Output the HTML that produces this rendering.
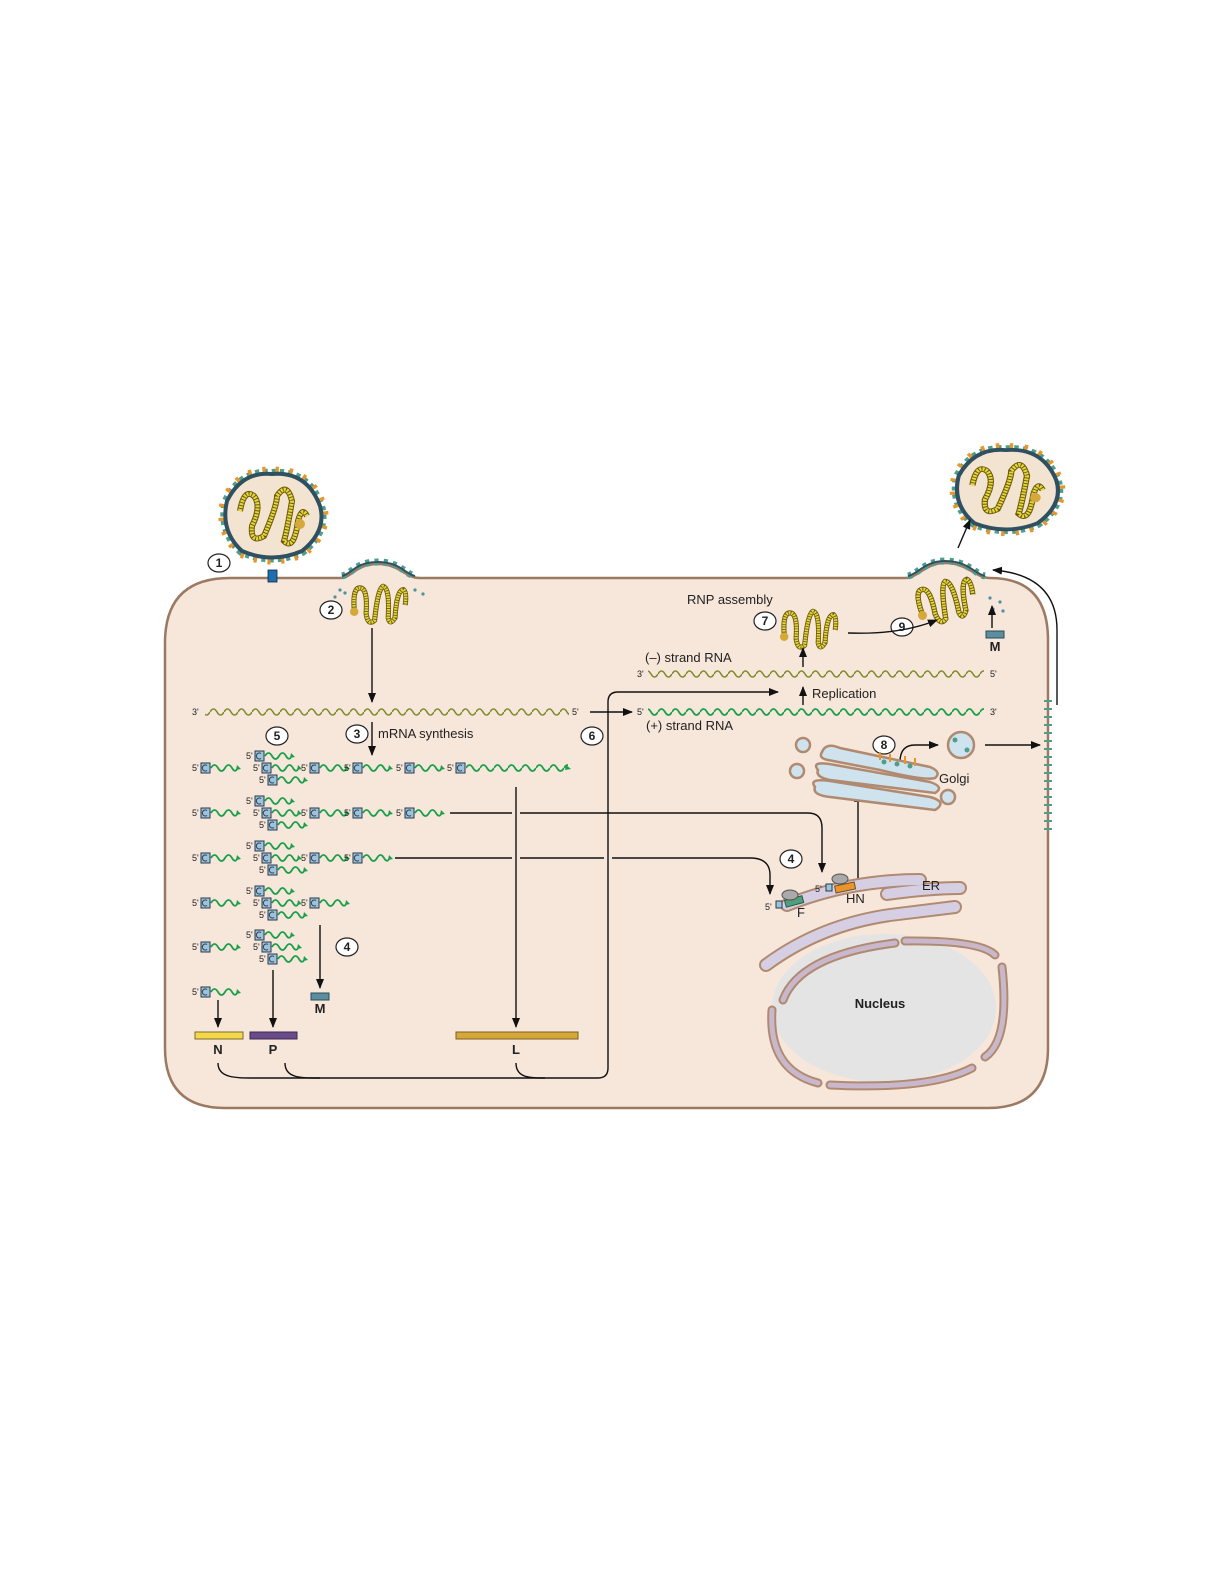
<!DOCTYPE html>
<html><head><meta charset="utf-8"><style>
html,body{margin:0;padding:0;background:#fff;overflow:hidden;width:1225px;height:1585px}
svg{display:block}
text{font-family:"Liberation Sans","DejaVu Sans",sans-serif;fill:#222}
.n{font-weight:bold;font-size:12px;text-anchor:middle}
.s{font-size:9px}
.l{font-size:13px}
</style></head><body>
<svg width="1225" height="1585" viewBox="0 0 1225 1585" xmlns="http://www.w3.org/2000/svg">
<defs>
<marker id="a" markerWidth="10" markerHeight="8" refX="9" refY="4" orient="auto" markerUnits="userSpaceOnUse"><path d="M0,0 L10,4 L0,8 Z" fill="#111"/></marker>
<pattern id="pg" patternUnits="userSpaceOnUse" x="0" y="706" width="14" height="12"><path d="M0,6 q3.5,-6 7,0 t7,0" fill="none" stroke="#7f8c2c" stroke-width="1.6"/></pattern>
<pattern id="pm" patternUnits="userSpaceOnUse" x="0" y="668" width="14" height="12"><path d="M0,6 q3.5,-6 7,0 t7,0" fill="none" stroke="#7f8c2c" stroke-width="1.6"/></pattern>
<pattern id="pp" patternUnits="userSpaceOnUse" x="0" y="706" width="14" height="12"><path d="M0,6 q3.5,-6 7,0 t7,0" fill="none" stroke="#1aa04a" stroke-width="1.8"/></pattern>
<pattern id="pl" patternUnits="userSpaceOnUse" x="466" y="762" width="14" height="12"><path d="M0,6 q3.5,-6 7,0 t7,0" fill="none" stroke="#1aa04a" stroke-width="1.8"/></pattern>
<g id="u"><rect x="0" y="-5" width="9" height="10" fill="#9cc2dc" stroke="#2a3a4a" stroke-width="1"/><path d="M6,-2.5 A3,3 0 1 0 6,2.5" fill="none" stroke="#2a3a4a" stroke-width="1"/><path d="M10,0 q3.5,-6 7,0 t7,0 t7,0 t6,-1" fill="none" stroke="#1aa04a" stroke-width="1.8"/><path d="M36,-3 L40,1 L35,2 Z" fill="#1aa04a"/></g>
<g id="vir">
<path d="M-45,-15 Q-30,-45 0,-42 Q35,-45 48,-10 Q55,15 30,35 Q0,48 -30,35 Q-52,15 -45,-15 Z" fill="none" stroke="#4f9e8c" stroke-width="10" stroke-dasharray="4 4"/>
<path d="M-45,-15 Q-30,-45 0,-42 Q35,-45 48,-10 Q55,15 30,35 Q0,48 -30,35 Q-52,15 -45,-15 Z" fill="none" stroke="#e8962c" stroke-width="14" stroke-dasharray="3 10" stroke-dashoffset="5"/>
<path d="M-45,-15 Q-30,-45 0,-42 Q35,-45 48,-10 Q55,15 30,35 Q0,48 -30,35 Q-52,15 -45,-15 Z" fill="#f3e4d2" stroke="#2f5060" stroke-width="4"/>
<path d="M-32,-5 Q-28,-28 -18,-20 Q-10,-10 -20,10 Q-22,28 -8,20 Q5,-10 5,-20 Q15,-35 20,-15 Q15,15 12,25 Q22,35 26,5 Q30,-10 35,0" fill="none" stroke="#6b5a10" stroke-width="6"/>
<path d="M-32,-5 Q-28,-28 -18,-20 Q-10,-10 -20,10 Q-22,28 -8,20 Q5,-10 5,-20 Q15,-35 20,-15 Q15,15 12,25 Q22,35 26,5 Q30,-10 35,0" fill="none" stroke="#e6d83a" stroke-width="4" stroke-dasharray="2 1"/>
<circle cx="28" cy="8" r="5" fill="#d4a93a"/>
</g>
<g id="rnp">
<path d="M-28,5 Q-30,-22 -20,-20 Q-12,-18 -14,10 Q-12,25 -4,18 Q0,-20 6,-22 Q14,-20 12,15 Q14,25 20,15 Q22,-18 30,-18 Q34,-15 32,0" fill="none" stroke="#6b5a10" stroke-width="6"/>
<path d="M-28,5 Q-30,-22 -20,-20 Q-12,-18 -14,10 Q-12,25 -4,18 Q0,-20 6,-22 Q14,-20 12,15 Q14,25 20,15 Q22,-18 30,-18 Q34,-15 32,0" fill="none" stroke="#e6d83a" stroke-width="4" stroke-dasharray="2 1"/>
<circle cx="-28" cy="8" r="5" fill="#d4a93a"/>
</g>
</defs>

<!-- cell -->
<path d="M230,578 L340,578 C352,578 355,564 378,564 C400,564 405,578 420,578 L905,578 C918,578 925,563 945,563 C968,563 975,578 990,578 Q1048,578 1048,640 L1048,1048 Q1048,1108 988,1108 L225,1108 Q165,1108 165,1048 L165,643 Q165,578 230,578 Z" fill="#f7e6da" stroke="#9c7a62" stroke-width="2.5"/>
<path d="M342,576 C352,574 355,562 378,562 C400,562 405,574 415,576" fill="none" stroke="#4f9e8c" stroke-width="7" stroke-dasharray="4 5"/>
<path d="M342,576 C352,574 355,562 378,562 C400,562 405,574 415,576" fill="none" stroke="#2f5060" stroke-width="2"/>
<path d="M908,576 C918,574 925,561 945,561 C968,561 975,574 985,576" fill="none" stroke="#4f9e8c" stroke-width="7" stroke-dasharray="4 5"/>
<path d="M908,576 C918,574 925,561 945,561 C968,561 975,574 985,576" fill="none" stroke="#2f5060" stroke-width="2"/>
<path d="M1048,700 L1048,830" stroke="#4f9e8c" stroke-width="8" stroke-dasharray="2 6"/>

<!-- viruses -->
<use href="#vir" transform="translate(272,516)"/>
<rect x="268" y="570" width="9" height="12" fill="#1e6fb0" stroke="#124" stroke-width="0.8"/>
<use href="#vir" transform="translate(1006,490) scale(1.05,0.95)"/>
<use href="#rnp" transform="translate(378,605) scale(0.85)"/>
<use href="#rnp" transform="translate(808,630) scale(0.85)"/>
<use href="#rnp" transform="translate(945,602) rotate(-15) scale(0.9)"/>
<g fill="#4f8fa0"><circle cx="335" cy="597" r="1.6"/><circle cx="345" cy="593" r="1.6"/><circle cx="340" cy="590" r="1.6"/><circle cx="415" cy="590" r="1.6"/><circle cx="423" cy="594" r="1.6"/><circle cx="990" cy="598" r="1.6"/><circle cx="1000" cy="602" r="1.6"/><circle cx="993" cy="609" r="1.6"/><circle cx="1003" cy="611" r="1.6"/></g>

<!-- numbers -->
<g fill="#fff" stroke="#222" stroke-width="1.2">
<ellipse cx="219" cy="563" rx="11" ry="9"/><ellipse cx="331" cy="610" rx="11" ry="9"/><ellipse cx="357" cy="734" rx="11" ry="9"/><ellipse cx="277" cy="736" rx="11" ry="9"/><ellipse cx="592" cy="736" rx="11" ry="9"/><ellipse cx="347" cy="947" rx="11" ry="9"/><ellipse cx="791" cy="859" rx="11" ry="9"/><ellipse cx="765" cy="621" rx="11" ry="9"/><ellipse cx="884" cy="745" rx="11" ry="9"/><ellipse cx="902" cy="627" rx="11" ry="9"/>
</g>
<g><text x="219" y="567" class="n">1</text><text x="331" y="614" class="n">2</text><text x="357" y="738" class="n">3</text><text x="277" y="740" class="n">5</text><text x="592" y="740" class="n">6</text><text x="347" y="951" class="n">4</text><text x="791" y="863" class="n">4</text><text x="765" y="625" class="n">7</text><text x="884" y="749" class="n">8</text><text x="902" y="631" class="n">9</text></g>

<!-- RNA strands -->
<rect x="205" y="706" width="364" height="12" fill="url(#pg)"/>
<rect x="648" y="668" width="336" height="12" fill="url(#pm)"/>
<rect x="648" y="706" width="336" height="12" fill="url(#pp)"/>
<text x="192" y="715" class="s">3'</text><text x="572" y="715" class="s">5'</text>
<text x="637" y="677" class="s">3'</text><text x="990" y="677" class="s">5'</text>
<text x="637" y="715" class="s">5'</text><text x="990" y="715" class="s">3'</text>
<text x="645" y="662" class="l">(–) strand RNA</text>
<text x="646" y="730" class="l">(+) strand RNA</text>
<text x="378" y="738" class="l">mRNA synthesis</text>
<text x="812" y="698" class="l">Replication</text>
<text x="687" y="604" class="l">RNP assembly</text>
<text x="939" y="783" class="l">Golgi</text>

<!-- mRNA units -->
<g>
<use href="#u" x="201" y="768"/><use href="#u" x="201" y="813"/><use href="#u" x="201" y="858"/><use href="#u" x="201" y="903"/><use href="#u" x="201" y="947"/><use href="#u" x="201" y="992"/>
<use href="#u" x="255" y="756"/><use href="#u" x="262" y="768"/><use href="#u" x="268" y="780"/>
<use href="#u" x="255" y="801"/><use href="#u" x="262" y="813"/><use href="#u" x="268" y="825"/>
<use href="#u" x="255" y="846"/><use href="#u" x="262" y="858"/><use href="#u" x="268" y="870"/>
<use href="#u" x="255" y="891"/><use href="#u" x="262" y="903"/><use href="#u" x="268" y="915"/>
<use href="#u" x="255" y="935"/><use href="#u" x="262" y="947"/><use href="#u" x="268" y="959"/>
<use href="#u" x="310" y="768"/><use href="#u" x="310" y="813"/><use href="#u" x="310" y="858"/><use href="#u" x="310" y="903"/>
<use href="#u" x="353" y="768"/><use href="#u" x="353" y="813"/><use href="#u" x="353" y="858"/>
<use href="#u" x="405" y="768"/><use href="#u" x="405" y="813"/>
<rect x="456" y="763" width="9" height="10" fill="#9cc2dc" stroke="#2a3a4a" stroke-width="1"/>
<path d="M462,765.5 A3,3 0 1 0 462,770.5" fill="none" stroke="#2a3a4a" stroke-width="1"/>
<rect x="466" y="762" width="102" height="12" fill="url(#pl)"/>
<path d="M566,765 L571,769 L565,770 Z" fill="#1aa04a"/>
</g>
<g class="s">
<text x="192" y="771">5'</text><text x="192" y="816">5'</text><text x="192" y="861">5'</text><text x="192" y="906">5'</text><text x="192" y="950">5'</text><text x="192" y="995">5'</text>
<text x="246" y="759">5'</text><text x="253" y="771">5'</text><text x="259" y="783">5'</text>
<text x="246" y="804">5'</text><text x="253" y="816">5'</text><text x="259" y="828">5'</text>
<text x="246" y="849">5'</text><text x="253" y="861">5'</text><text x="259" y="873">5'</text>
<text x="246" y="894">5'</text><text x="253" y="906">5'</text><text x="259" y="918">5'</text>
<text x="246" y="938">5'</text><text x="253" y="950">5'</text><text x="259" y="962">5'</text>
<text x="301" y="771">5'</text><text x="301" y="816">5'</text><text x="301" y="861">5'</text><text x="301" y="906">5'</text>
<text x="344" y="771">5'</text><text x="344" y="816">5'</text><text x="344" y="861">5'</text>
<text x="396" y="771">5'</text><text x="396" y="816">5'</text>
<text x="447" y="771">5'</text>
</g>

<!-- arrows -->
<g fill="none" stroke="#111" stroke-width="1.4">
<path d="M372,628 L372,702" marker-end="url(#a)"/>
<path d="M372,722 L372,755" marker-end="url(#a)"/>
<path d="M590,712 L632,712" marker-end="url(#a)"/>
<path d="M218,1000 L218,1027" marker-end="url(#a)"/>
<path d="M273,970 L273,1027" marker-end="url(#a)"/>
<path d="M320,925 L320,988" marker-end="url(#a)"/>
<path d="M516,787 L516,1027" marker-end="url(#a)"/>
<path d="M450,813 L512,813 M520,813 L808,813 Q822,813 822,828 L822,872" marker-end="url(#a)"/>
<path d="M395,858 L512,858 M520,858 L604,858 M612,858 L750,858 Q770,858 770,875 L770,894" marker-end="url(#a)"/>
<path d="M218,1063 C218,1078 235,1078 255,1078 L598,1078 Q608,1078 608,1068 L608,702 Q608,692 618,692 L778,692" marker-end="url(#a)"/>
<path d="M285,1063 C285,1078 300,1078 320,1078"/>
<path d="M516,1063 C516,1078 530,1078 545,1078"/>
<path d="M803,705 L803,687" marker-end="url(#a)"/>
<path d="M803,667 L803,648" marker-end="url(#a)"/>
<path d="M848,633 Q900,635 937,620" marker-end="url(#a)"/>
<path d="M992,628 L992,606" marker-end="url(#a)"/>
<path d="M958,548 L970,520" marker-end="url(#a)"/>
<path d="M1057,705 L1057,630 Q1057,575 993,570" marker-end="url(#a)"/>
<path d="M858,882 L858,793" marker-end="url(#a)"/>
<path d="M900,762 Q900,745 915,745 L938,745" marker-end="url(#a)"/>
<path d="M985,745 L1040,745" marker-end="url(#a)"/>
</g>

<!-- proteins -->
<rect x="195" y="1032" width="48" height="7" fill="#f5d84a" stroke="#7a6a30"/>
<rect x="250" y="1032" width="47" height="7" fill="#6a4a8a" stroke="#3a2a50"/>
<rect x="456" y="1032" width="122" height="7" fill="#d4a93a" stroke="#7a6020"/>
<rect x="311" y="993" width="18" height="7" fill="#5d8ea0" stroke="#2a4a55"/>
<rect x="986" y="631" width="18" height="7" fill="#5d8ea0" stroke="#2a4a55"/>
<g class="l" style="font-weight:bold;text-anchor:middle"><text x="218" y="1054">N</text><text x="273" y="1054">P</text><text x="516" y="1054">L</text><text x="320" y="1013">M</text><text x="995" y="651">M</text></g>

<!-- Golgi -->
<g stroke="#b08a70" stroke-width="2.5" fill="#cfe3ee">
<circle cx="803" cy="745" r="7"/><circle cx="797" cy="771" r="7"/><circle cx="948" cy="797" r="7"/>
<path d="M822,752 Q826,742 840,748 L930,767 Q942,772 935,778 Q925,781 880,770 L828,760 Q818,758 822,752 Z"/>
<path d="M818,770 Q810,760 835,765 L930,782 Q945,787 935,793 L830,780 Q815,777 818,770 Z"/>
<path d="M815,787 Q808,778 830,781 L930,797 Q948,802 935,810 L830,797 Q812,795 815,787 Z"/>
<circle cx="961" cy="745" r="13" fill="#cfe3ee"/>
</g>
<g stroke="#e8962c" stroke-width="2"><path d="M880,752 v8 M890,754 v8 M905,756 v8 M915,758 v8"/></g>
<g fill="#4f9e8c"><circle cx="884" cy="762" r="2.5"/><circle cx="897" cy="764" r="2.5"/><circle cx="910" cy="766" r="2.5"/><circle cx="955" cy="740" r="2.5"/><circle cx="967" cy="750" r="2.5"/></g>

<!-- Nucleus -->
<ellipse cx="884" cy="1008" rx="112" ry="74" fill="#e4e4e4"/>
<!-- ER -->
<g fill="none" stroke-linecap="round">
<path d="M787,905 Q850,880 920,880 M887,894 Q930,888 960,888" stroke="#b08a70" stroke-width="14"/>
<path d="M787,905 Q850,880 920,880 M887,894 Q930,888 960,888" stroke="#d6cfe3" stroke-width="10"/>
<path d="M766,965 Q820,925 890,915 L955,907" stroke="#b08a70" stroke-width="14"/>
<path d="M766,965 Q820,925 890,915 L955,907" stroke="#d6cfe3" stroke-width="10"/>
</g>
<g fill="none" stroke-linecap="round">
<path d="M783,1000 Q800,955 895,943 M905,941 Q980,940 995,955 M1002,967 Q1010,1040 985,1057 M972,1068 Q930,1090 830,1085 M818,1083 Q768,1070 772,1010" stroke="#b08a70" stroke-width="9"/>
<path d="M783,1000 Q800,955 895,943 M905,941 Q980,940 995,955 M1002,967 Q1010,1040 985,1057 M972,1068 Q930,1090 830,1085 M818,1083 Q768,1070 772,1010" stroke="#c9b8cc" stroke-width="5"/>
</g>
<text x="880" y="1008" class="l" style="font-weight:bold;text-anchor:middle">Nucleus</text>
<text x="922" y="890" class="l">ER</text>
<rect x="785" y="898" width="18" height="7" fill="#4f9e7c" stroke="#2a5a44" transform="rotate(-15 794 901)"/>
<rect x="835" y="884" width="20" height="7" fill="#e8962c" stroke="#7a5020" transform="rotate(-12 845 887)"/>
<ellipse cx="790" cy="895" rx="8" ry="5" fill="#aaa" stroke="#555"/>
<ellipse cx="840" cy="879" rx="8" ry="5" fill="#aaa" stroke="#555"/>
<rect x="776" y="901" width="6" height="7" fill="#9cc2dc" stroke="#2a3a4a"/>
<rect x="826" y="884" width="6" height="7" fill="#9cc2dc" stroke="#2a3a4a"/>
<text x="765" y="910" class="s">5'</text><text x="815" y="892" class="s">5'</text>
<text x="797" y="917" class="l">F</text><text x="846" y="903" class="l">HN</text>
</svg>
</body></html>
